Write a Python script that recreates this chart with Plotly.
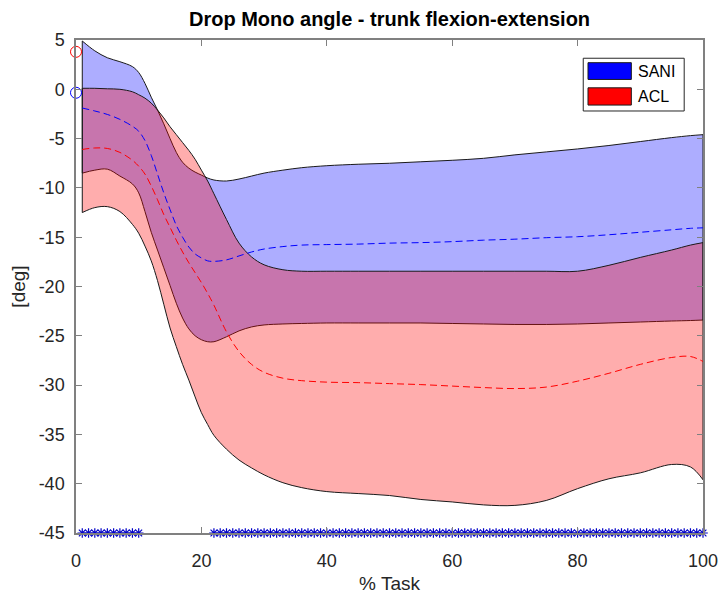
import plotly.graph_objects as go

# % of task at which the curves are sampled
pct_task = [1, 3, 5, 7, 9, 10, 11, 12, 13, 14, 15, 16, 17, 18, 19, 20, 21, 22,
            24, 26, 28, 30, 33, 36, 40, 45, 50, 55, 60, 65, 70, 75, 80, 85, 90,
            95, 98, 100]

# SANI group: mean and band edges [deg]
sani_mean = [-1.9, -2.2, -2.55, -3.05, -3.75, -4.25, -5.2, -6.7, -8.6, -10.5, -12.2,
             -13.8, -15.0, -16.0, -16.7, -17.1, -17.4, -17.45, -17.3, -16.9,
             -16.5, -16.2, -15.95, -15.8, -15.75, -15.7, -15.6, -15.55, -15.45,
             -15.3, -15.2, -15.05, -14.95, -14.75, -14.5, -14.25, -14.1, -14.05]
sani_upper = [4.9, 3.9, 3.2, 2.8, 2.3, 1.7, 0.6, -0.8, -2.1, -3.5, -5.0, -6.4,
              -7.4, -8.0, -8.4, -8.7, -9.0, -9.2, -9.3, -9.1, -8.8, -8.5, -8.2,
              -7.95, -7.75, -7.6, -7.5, -7.35, -7.2, -7.0, -6.65, -6.35, -6.05,
              -5.7, -5.3, -4.9, -4.7, -4.6]
sani_lower = [-8.5, -8.2, -8.1, -8.8, -9.6, -10.5, -12.4, -14.5, -16.3, -18.1,
              -19.9, -21.7, -23.2, -24.3, -25.0, -25.4, -25.6, -25.6, -25.1,
              -24.5, -24.1, -23.9, -23.8, -23.75, -23.7, -23.7, -23.7, -23.7,
              -23.75, -23.8, -23.85, -23.85, -23.8, -23.7, -23.6, -23.5, -23.45,
              -23.4]

# ACL group: mean and band edges [deg]
acl_mean = [-6.1, -5.95, -6.0, -6.4, -7.2, -7.8, -8.6, -9.8, -11.2, -12.7, -14.0,
            -15.3, -16.5, -17.6, -18.6, -19.6, -20.7, -21.9, -24.6, -26.6, -27.9,
            -28.7, -29.3, -29.55, -29.7, -29.75, -29.85, -29.95, -30.1, -30.25,
            -30.35, -30.2, -29.6, -28.8, -27.9, -27.2, -27.1, -27.6]
acl_upper = [0.1, 0.1, 0.05, 0.0, -0.25, -0.55, -0.9, -1.4, -2.1, -2.9, -3.8,
             -4.6, -5.4, -6.2, -7.1, -8.2, -9.3, -10.6, -13.2, -15.6, -17.0,
             -17.8, -18.3, -18.45, -18.45, -18.45, -18.45, -18.45, -18.45,
             -18.45, -18.45, -18.45, -18.45, -17.85, -17.05, -16.3, -15.8, -15.55]
acl_lower = [-12.5, -12.0, -11.9, -12.4, -13.7, -14.6, -15.9, -17.4, -19.4, -21.8,
             -24.2, -26.1, -27.9, -29.5, -31.2, -32.8, -34.0, -35.1, -36.5, -37.6,
             -38.4, -39.1, -39.9, -40.4, -40.8, -41.0, -41.2, -41.6, -41.85,
             -42.15, -42.2, -41.7, -40.5, -39.5, -38.9, -38.05, -38.3, -39.6]

group_names = ["SANI", "ACL"]
group_colors = ["#0000ff", "#ff0000"]
band_fills = ["rgba(0,0,255,0.32)", "rgba(255,0,0,0.32)"]
initial_angle = [-0.35, 3.8]             # value at 0 % task, per group
significant_runs = [(1, 10), (22, 100)]  # % task samples flagged as different

x_ticks = [0, 20, 40, 60, 80, 100]
y_ticks = [5, 0, -5, -10, -15, -20, -25, -30, -35, -40, -45]

FONT = "Liberation Sans, Arial, sans-serif"
TXT = "#262626"
AX = "#808080"
EDGE = "#1a1a1a"

fig = go.Figure()

bands = [(sani_lower, sani_upper), (acl_lower, acl_upper)]
for (lower, upper), fill in zip(bands, band_fills):
    fig.add_trace(go.Scatter(x=pct_task, y=lower, mode="lines",
                             line=dict(color=EDGE, width=1, shape="spline"),
                             hoverinfo="skip", showlegend=False))
    fig.add_trace(go.Scatter(x=pct_task, y=upper, mode="lines", fill="tonexty",
                             fillcolor=fill,
                             line=dict(color=EDGE, width=1, shape="spline"),
                             hoverinfo="skip", showlegend=False))

# closing edges of each band at both ends
for lower, upper in bands:
    for i in (0, -1):
        fig.add_trace(go.Scatter(x=[pct_task[i], pct_task[i]], y=[lower[i], upper[i]],
                                 mode="lines", line=dict(color=EDGE, width=1),
                                 hoverinfo="skip", showlegend=False))

# group means
for mean, col in zip([sani_mean, acl_mean], group_colors):
    fig.add_trace(go.Scatter(x=pct_task, y=mean, mode="lines",
                             line=dict(color=col, width=1, dash="7px,4px",
                                       shape="spline"),
                             hoverinfo="skip", showlegend=False))

# starting values
for val, col in zip(initial_angle, group_colors):
    fig.add_trace(go.Scatter(x=[0], y=[val], mode="markers", cliponaxis=False,
                             marker=dict(symbol="circle-open", size=11, color=col,
                                         line=dict(color=col, width=1)),
                             hoverinfo="skip", showlegend=False))

# significance markers along the bottom axis
sig_x = []
for start, stop in significant_runs:
    sig_x += list(range(start, stop + 1))
fig.add_trace(go.Scatter(x=sig_x, y=[y_ticks[-1]] * len(sig_x), mode="markers",
                         cliponaxis=False,
                         marker=dict(symbol="asterisk-open", size=8, color="#0000c8",
                                     line=dict(color="#0000c8", width=1.2)),
                         hoverinfo="skip", showlegend=False))

# legend box drawn in axis-domain coordinates
lx0, lx1, ly0, ly1 = 0.809, 0.970, 0.856, 0.963
fig.add_shape(type="rect", xref="x domain", yref="y domain",
              x0=lx0, x1=lx1, y0=ly0, y1=ly1,
              line=dict(color="#262626", width=1), fillcolor="white")
entry_y = [(0.920, 0.954), (0.868, 0.903)]
for name, col, (y0, y1) in zip(group_names, group_colors, entry_y):
    fig.add_shape(type="rect", xref="x domain", yref="y domain",
                  x0=0.8166, x1=0.8857, y0=y0, y1=y1,
                  line=dict(color=EDGE, width=1), fillcolor=col)
    fig.add_annotation(xref="x domain", yref="y domain", x=0.893, y=(y0 + y1) / 2,
                       text=name, showarrow=False, xanchor="left", yanchor="middle",
                       font=dict(family=FONT, size=16, color="#000000"))

axis_common = dict(showline=True, linecolor=AX, linewidth=1.5, mirror="ticks",
                   ticks="inside", ticklen=6, tickcolor=AX, tickwidth=1,
                   showgrid=False, zeroline=False, automargin=False,
                   tickfont=dict(family=FONT, size=18, color=TXT))

fig.update_xaxes(range=[0, 100], tickvals=x_ticks,
                 ticktext=[str(v) for v in x_ticks],
                 title=dict(text="% Task", font=dict(family=FONT, size=19, color=TXT),
                            standoff=10),
                 ticklabelstandoff=11, **axis_common)
fig.update_yaxes(range=[-45, 5], tickvals=y_ticks,
                 ticktext=[str(v) for v in y_ticks],
                 title=dict(text="[deg]", font=dict(family=FONT, size=19, color=TXT),
                            standoff=8),
                 ticklabelstandoff=6, **axis_common)

fig.update_layout(
    width=720, height=594,
    margin=dict(l=76, r=17, t=40, b=61),
    paper_bgcolor="white", plot_bgcolor="white",
    title=dict(text="Drop Mono angle - trunk flexion-extension",
               x=(76 + 703) / 2 / 720, xanchor="center", y=1 - 19 / 594,
               yanchor="middle",
               font=dict(family=FONT, size=20, color="#000000", weight="bold")),
    showlegend=False,
)

fig.write_html("out.html")
